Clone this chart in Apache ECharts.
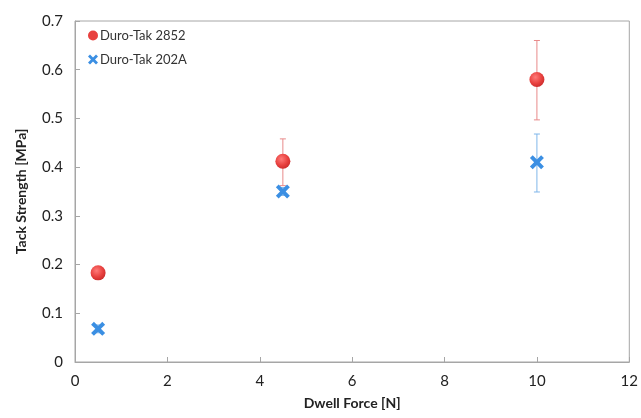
<!DOCTYPE html>
<html>
<head>
<meta charset="utf-8">
<script src="https://cdn.jsdelivr.net/npm/echarts@6/dist/echarts.min.js"></script>
<style>
  html, body { margin: 0; padding: 0; background: #fff; }
  #chart { width: 641px; height: 418px; }
</style>
</head>
<body>
<div id="chart"></div>
<script>
// Dwell force settings (N)
const dwellForce = [0.5, 4.5, 10];

// Duro-Tak 2852: mean tack strength and error bar limits (MPa)
const tack2852 = [0.183, 0.412, 0.580];
const tack2852Low = [0.178, 0.362, 0.497];
const tack2852High = [0.188, 0.458, 0.660];

// Duro-Tak 202A: mean tack strength and error bar limits (MPa)
const tack202A = [0.068, 0.350, 0.410];
const tack202ALow = [0.060, 0.342, 0.349];
const tack202AHigh = [0.076, 0.358, 0.468];

const xTicks = [0, 2, 4, 6, 8, 10, 12];
const yTicks = [0, 0.1, 0.2, 0.3, 0.4, 0.5, 0.6, 0.7];

const RED = '#e8413f';
const BLUE = '#3b8fe3';
const FONT = 'Lato, "Open Sans", sans-serif';
const X_PATH = 'path://M2,0 L5,3 L8,0 L10,2 L7,5 L10,8 L8,10 L5,7 L2,10 L0,8 L3,5 L0,2 Z';

function pairs(xs, ys) { return xs.map((x, i) => [x, ys[i]]); }
function errRows(xs, lo, hi) { return xs.map((x, i) => [x, lo[i], hi[i]]); }

function errorBars(color) {
  return function (params, api) {
    const x = api.value(0);
    const lo = api.coord([x, api.value(1)]);
    const hi = api.coord([x, api.value(2)]);
    const cap = 3;
    const style = { stroke: color, lineWidth: 1 };
    return {
      type: 'group',
      children: [
        { type: 'line', shape: { x1: lo[0], y1: lo[1], x2: hi[0], y2: hi[1] }, style },
        { type: 'line', shape: { x1: hi[0] - cap, y1: hi[1], x2: hi[0] + cap, y2: hi[1] }, style },
        { type: 'line', shape: { x1: lo[0] - cap, y1: lo[1], x2: lo[0] + cap, y2: lo[1] }, style }
      ]
    };
  };
}

const redFill = {
  type: 'radial', x: 0.4, y: 0.35, r: 0.7,
  colorStops: [
    { offset: 0, color: '#ff7a78' },
    { offset: 0.6, color: RED },
    { offset: 1, color: '#c92a2a' }
  ]
};

const chart = echarts.init(document.getElementById('chart'));
chart.setOption({
  animation: false,
  backgroundColor: '#ffffff',
  grid: { left: 75, right: 9, top: 21, bottom: 56, show: true, borderColor: '#a6a6a6', borderWidth: 1 },
  legend: {
    left: 83, top: 24, orient: 'vertical', itemGap: 11,
    itemWidth: 10, itemHeight: 10,
    textStyle: { fontFamily: FONT, fontSize: 13, color: '#333', padding: [0, 0, 0, -3] },
    data: [
      { name: 'Duro-Tak 2852', icon: 'circle', itemStyle: { color: RED } },
      { name: 'Duro-Tak 202A', icon: X_PATH, itemStyle: { color: BLUE } }
    ]
  },
  xAxis: {
    type: 'value', min: xTicks[0], max: xTicks[xTicks.length - 1], interval: 2,
    name: 'Dwell Force [N]', nameLocation: 'middle', nameGap: 34,
    nameTextStyle: { fontFamily: FONT, fontSize: 14, fontWeight: 'bold', color: '#222' },
    axisLine: { lineStyle: { color: '#a6a6a6' } },
    axisTick: { inside: true, length: 5, lineStyle: { color: '#a6a6a6' } },
    axisLabel: { fontFamily: FONT, fontSize: 15, color: '#222', margin: 12 },
    splitLine: { show: false }
  },
  yAxis: {
    type: 'value', min: yTicks[0], max: yTicks[yTicks.length - 1], interval: 0.1,
    name: 'Tack Strength [MPa]', nameLocation: 'middle', nameGap: 47,
    nameTextStyle: { fontFamily: FONT, fontSize: 14, fontWeight: 'bold', color: '#222' },
    axisLine: { show: true, lineStyle: { color: '#a6a6a6' } },
    axisTick: { show: true, inside: true, length: 5, lineStyle: { color: '#a6a6a6' } },
    axisLabel: { fontFamily: FONT, fontSize: 15, color: '#222', margin: 12,
      formatter: v => (Math.round(v * 10) / 10).toString() },
    splitLine: { show: false }
  },
  series: [
    {
      name: 'err2852', type: 'custom', renderItem: errorBars('#e88a8a'),
      data: errRows(dwellForce, tack2852Low, tack2852High), z: 1, silent: true
    },
    {
      name: 'err202A', type: 'custom', renderItem: errorBars('#7fb6ea'),
      data: errRows(dwellForce, tack202ALow, tack202AHigh), z: 1, silent: true
    },
    {
      name: 'Duro-Tak 202A', type: 'scatter', symbol: X_PATH, symbolSize: 14,
      itemStyle: { color: BLUE, opacity: 1 }, data: pairs(dwellForce, tack202A), z: 3
    },
    {
      name: 'Duro-Tak 2852', type: 'scatter', symbol: 'circle', symbolSize: 15,
      itemStyle: { color: redFill, opacity: 1 }, data: pairs(dwellForce, tack2852), z: 4
    }
  ]
});
</script>
</body>
</html>
